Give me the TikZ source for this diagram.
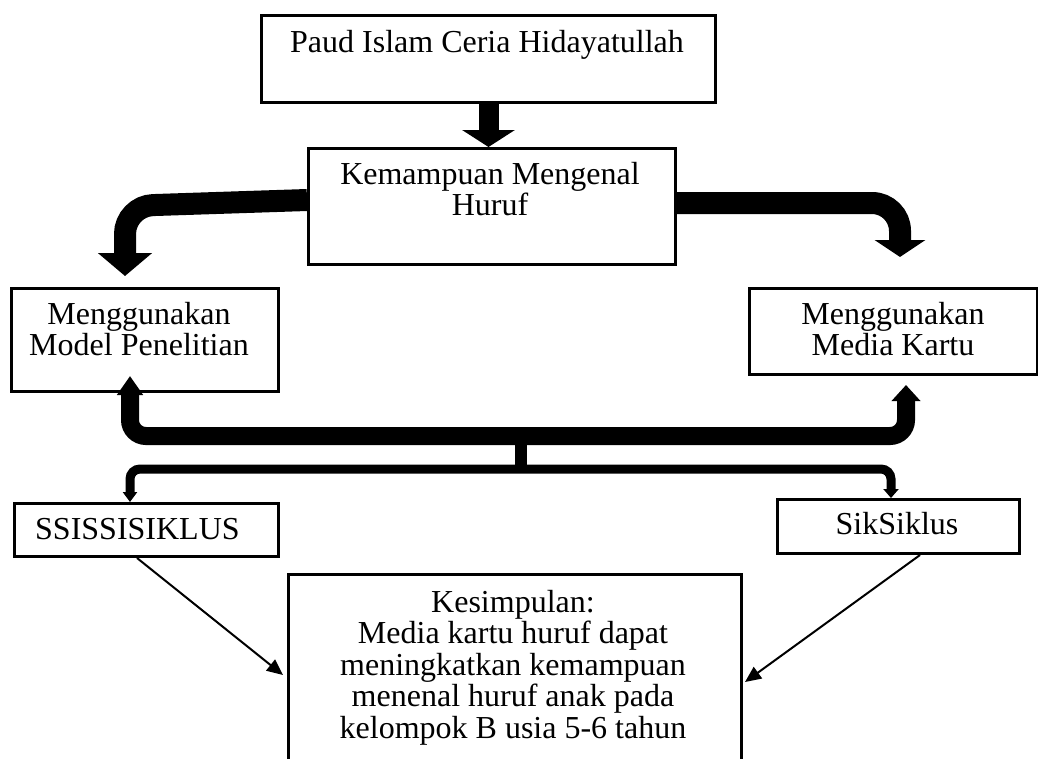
\documentclass[tikz,border=0pt]{standalone}
\usepackage{fontspec}
\setmainfont{Liberation Serif}
\usetikzlibrary{arrows.meta}
\begin{document}
\begin{tikzpicture}[x=1pt,y=-1pt,
  box/.style={draw,line width=3pt,inner sep=0pt,anchor=north west},
  txt/.style={font=\fontsize{32}{31}\selectfont,align=center,inner sep=0pt,anchor=base},
  thin/.style={line width=2pt,-{Triangle[width=14pt,length=16pt]}}]
\useasboundingbox (0,0) rectangle (1038,758);
% boxes
\node[box,minimum width=454pt,minimum height=87pt] (top) at (260,14) {};
\node[box,minimum width=367pt,minimum height=116pt] (k) at (307,147) {};
\node[box,minimum width=267pt,minimum height=103pt] (model) at (10,287) {};
\node[box,minimum width=288pt,minimum height=86pt] (media) at (748,287) {};
\node[box,minimum width=264pt,minimum height=53pt] (s1) at (13,502) {};
\node[box,minimum width=242pt,minimum height=54pt] (s2) at (776,498) {};
\node[box,minimum width=453pt,minimum height=240pt] (kes) at (287,573) {};
% texts (base = baseline of the last line)
\node[txt] (ttop) at (487,52) {Paud Islam Ceria Hidayatullah};
\node[txt] (tk) at (490,215) {Kemampuan Mengenal\\Huruf};
\node[txt] (tmodel) at (139,355) {Menggunakan\\Model Penelitian};
\node[txt] (tmedia) at (893,355) {Menggunakan\\Media Kartu};
\node[txt,anchor=base west] (ts1) at (35,539) {SSISSISIKLUS};
\node[txt] (ts2) at (897,534) {SikSiklus};
\node[txt,font=\fontsize{32}{31.5}\selectfont] (tkes) at (513,738) {Kesimpulan:\\Media kartu huruf dapat\\meningkatkan kemampuan\\menenal huruf anak pada\\kelompok B usia 5-6 tahun};
% block arrows
\draw[line width=20pt,-{Triangle[width=52pt,length=17pt]}] (top.south) -- (top.south |- k.north);
\coordinate (la) at (125,276);
\coordinate (ra) at (900,257);
\draw[line width=22pt,rounded corners=28pt,-{Triangle[width=53pt,length=23pt]}]
  (k.west |- 0,200) -- (125,206) -- (la);
\draw[line width=22pt,rounded corners=28pt,-{Triangle[width=50pt,length=17pt]}]
  (k.east |- 0,203) -- (900,203) -- (ra);
% bracket arrows
\coordinate (bl) at (130,376);
\coordinate (br) at (906,385);
\draw[line width=18pt,rounded corners=16pt,{Triangle[width=25pt,length=19pt]}-{Triangle[width=28pt,length=16pt]}]
  (bl) -- (130,436) -- (906,436) -- (br);
\fill (515,440) rectangle (527,469);
\draw[line width=9pt,rounded corners=10pt,{Triangle[width=14pt,length=10pt]}-{Triangle[width=15pt,length=9pt]}]
  (130,0 |- s1.north) -- (130,469) -- (891,469) -- (891,0 |- s2.north);
% thin arrows
\draw[thin] (137,0 |- s1.south) -- (283,675);
\draw[thin] (920,0 |- s2.south) -- (745,682);
\end{tikzpicture}
\end{document}
